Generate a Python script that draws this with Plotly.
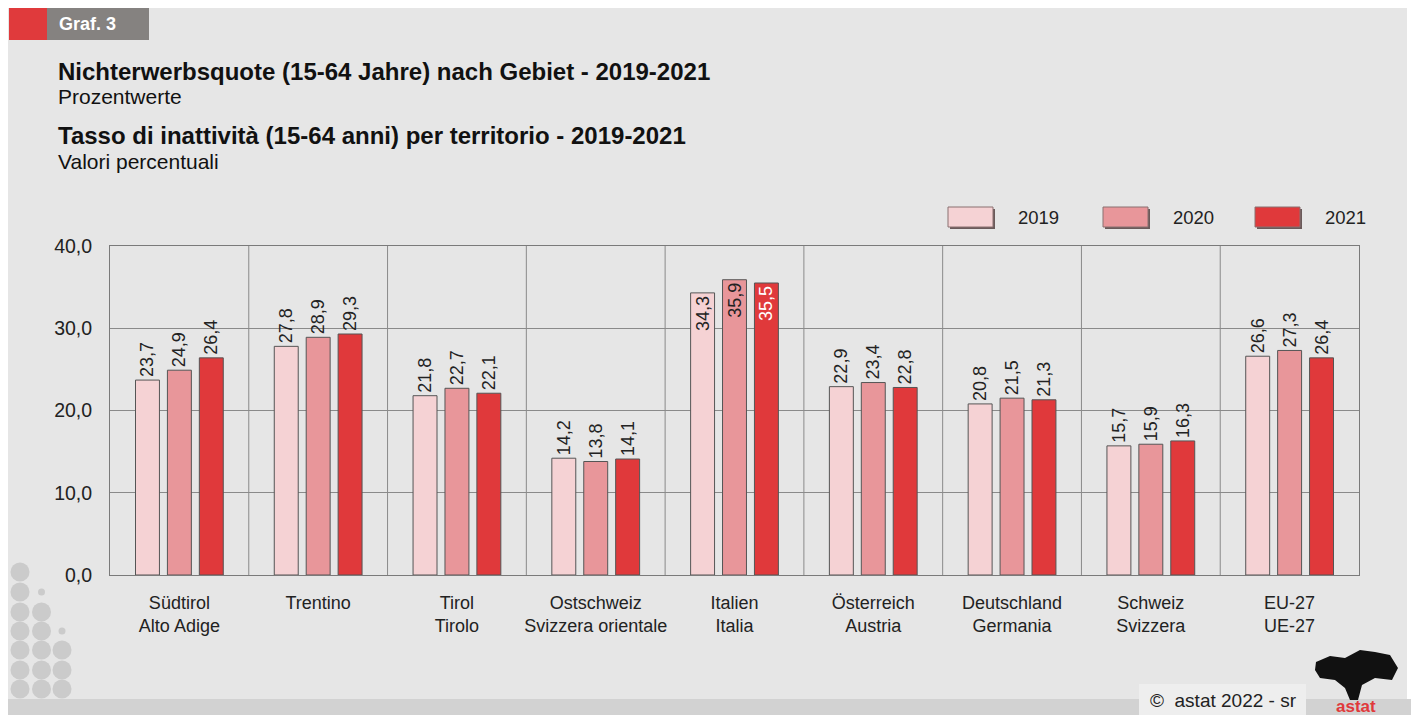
import plotly.graph_objects as go

categories = ["Südtirol<br>Alto Adige", "Trentino", "Tirol<br>Tirolo", "Ostschweiz<br>Svizzera orientale",
              "Italien<br>Italia", "Österreich<br>Austria", "Deutschland<br>Germania", "Schweiz<br>Svizzera",
              "EU-27<br>UE-27"]
years = ["2019", "2020", "2021"]
v2019 = [23.7, 27.8, 21.8, 14.2, 34.3, 22.9, 20.8, 15.7, 26.6]
v2020 = [24.9, 28.9, 22.7, 13.8, 35.9, 23.4, 21.5, 15.9, 27.3]
v2021 = [26.4, 29.3, 22.1, 14.1, 35.5, 22.8, 21.3, 16.3, 26.4]
series = [v2019, v2020, v2021]
colors = ["#f5d2d4", "#e8969a", "#e0393b"]
inside_text_colors = ["#222222", "#222222", "#ffffff"]

W, H = 1411, 715
ML, MR, MT, MB = 110, 52, 246, 140
PW, PH = W - ML - MR, H - MT - MB
FONT = "Liberation Sans, Arial, sans-serif"


def fx(x):
    return (x - ML) / PW


def fy(y):
    return (H - MB - y) / PH


x_idx = list(range(len(categories)))
fig = go.Figure()
for name, vals, col, tcol in zip(years, series, colors, inside_text_colors):
    pos = ["inside" if v > 33 else "outside" for v in vals]
    tcols = [tcol if p == "inside" else "#222222" for p in pos]
    fig.add_trace(go.Bar(
        x=x_idx, y=vals, name=name,
        marker=dict(color=col, line=dict(color="#555555", width=1)),
        text=[f"{v:.1f}".replace(".", ",") for v in vals],
        textposition=pos, insidetextanchor="end", textangle=-90, constraintext="none",
        textfont=dict(family=FONT, size=18, color=tcols),
        cliponaxis=False, showlegend=False,
    ))

shapes = []
annotations = []
# background
shapes.append(dict(type="rect", xref="paper", yref="paper", x0=fx(8), x1=fx(1407), y0=fy(700), y1=fy(8),
                   fillcolor="#e6e6e6", line=dict(width=0), layer="below"))
shapes.append(dict(type="rect", xref="paper", yref="paper", x0=fx(8), x1=fx(1411), y0=fy(715), y1=fy(699),
                   fillcolor="#d2d2d2", line=dict(width=0), layer="below"))
shapes.append(dict(type="rect", xref="paper", yref="paper", x0=fx(1139), x1=fx(1306), y0=fy(715), y1=fy(684),
                   fillcolor="#eeeeee", line=dict(width=0), layer="below"))
# header box
shapes.append(dict(type="rect", xref="paper", yref="paper", x0=fx(9), x1=fx(47), y0=fy(40), y1=fy(8),
                   fillcolor="#e03a3c", line=dict(width=0)))
shapes.append(dict(type="rect", xref="paper", yref="paper", x0=fx(47), x1=fx(149), y0=fy(40), y1=fy(8),
                   fillcolor="#858280", line=dict(width=0)))
annotations.append(dict(text="<b>Graf. 3</b>", xref="paper", yref="paper", x=fx(57), y=fy(24),
                        xanchor="left", yanchor="middle", showarrow=False,
                        font=dict(family=FONT, size=18, color="white")))
# titles
for txt, y, bold in [("Nichterwerbsquote (15-64 Jahre) nach Gebiet - 2019-2021", 71, True),
                     ("Prozentwerte", 96, False),
                     ("Tasso di inattività (15-64 anni) per territorio - 2019-2021", 136, True),
                     ("Valori percentuali", 161, False)]:
    annotations.append(dict(text=f"<b>{txt}</b>" if bold else txt, xref="paper", yref="paper",
                            x=fx(56), y=fy(y), xanchor="left", yanchor="middle", showarrow=False,
                            font=dict(family=FONT, size=24 if bold else 21, color="#111111")))
# vertical separators between categories
for i in range(len(categories) - 1):
    shapes.append(dict(type="line", xref="x", yref="y domain", x0=i + 0.5, x1=i + 0.5, y0=0, y1=1,
                       line=dict(color="#8a8a8a", width=1), layer="below"))
# legend (manual boxes)
leg_x = [948, 1103, 1255]
for lx, name, col in zip(leg_x, years, colors):
    shapes.append(dict(type="rect", xref="paper", yref="paper", x0=fx(lx + 2), x1=fx(lx + 47),
                       y0=fy(229), y1=fy(209), fillcolor="#6a5a5a", line=dict(width=0)))
    shapes.append(dict(type="rect", xref="paper", yref="paper", x0=fx(lx), x1=fx(lx + 45),
                       y0=fy(227), y1=fy(207), fillcolor=col, line=dict(color="#8a7070", width=1)))
    annotations.append(dict(text=name, xref="paper", yref="paper", x=fx(lx + 68), y=fy(217),
                            xanchor="left", yanchor="middle", showarrow=False,
                            font=dict(family=FONT, size=18.5, color="#222222")))
# decorative dots bottom-left
dot_cols = [20, 41.5, 62]
dot_rows = [572, 592, 612, 631, 650, 670, 689]
pattern = [[2, 0, 0], [2, 1, 0], [2, 2, 0], [2, 2, 1], [2, 2, 2], [2, 2, 2], [2, 2, 2]]
for r, row in zip(dot_rows, pattern):
    for c, kind in zip(dot_cols, row):
        if kind == 0:
            continue
        rad = 9.5 if kind == 2 else 3.5
        shapes.append(dict(type="circle", xref="paper", yref="paper", x0=fx(c - rad), x1=fx(c + rad),
                           y0=fy(r + rad), y1=fy(r - rad), fillcolor="#cbcbcb", line=dict(width=0),
                           layer="below"))
# copyright
annotations.append(dict(text="©  astat 2022 - sr", xref="paper", yref="paper", x=fx(1148), y=fy(700),
                        xanchor="left", yanchor="middle", showarrow=False,
                        font=dict(family=FONT, size=19, color="#222222")))
# logo
pts = [(1316, 662), (1330, 656), (1345, 658), (1360, 650), (1375, 652), (1390, 655), (1398, 668),
       (1392, 680), (1375, 678), (1362, 685), (1358, 700), (1350, 700), (1345, 688), (1335, 680),
       (1320, 678), (1315, 670)]
path = "M " + " L ".join(f"{fx(x):.5f},{fy(y):.5f}" for x, y in pts) + " Z"
shapes.append(dict(type="path", xref="paper", yref="paper", path=path, fillcolor="#111111",
                   line=dict(width=0)))
annotations.append(dict(text="<b>astat</b>", xref="paper", yref="paper", x=fx(1356), y=fy(706),
                        xanchor="center", yanchor="middle", showarrow=False,
                        font=dict(family=FONT, size=17, color="#e0393b")))

fig.update_layout(
    width=W, height=H,
    margin=dict(l=ML, r=MR, t=MT, b=MB, pad=0),
    paper_bgcolor="white", plot_bgcolor="white",
    barmode="group", bargap=0.31, bargroupgap=0.25,
    separators=", ",
    font=dict(family=FONT, size=17, color="#222222"),
    shapes=shapes, annotations=annotations,
    xaxis=dict(tickmode="array", tickvals=x_idx, ticktext=categories, range=[-0.5, len(categories) - 0.5],
               showgrid=False, zeroline=False, showline=True, linecolor="#7a7a7a", mirror=True,
               ticks="", ticklabelstandoff=11, tickfont=dict(family=FONT, size=18, color="#222222")),
    yaxis=dict(range=[0, 40], dtick=10, tickformat=".1f", showgrid=True, gridcolor="#8a8a8a",
               zeroline=False, showline=True, linecolor="#7a7a7a", mirror=True, ticks="",
               ticklabelstandoff=13, tickfont=dict(family=FONT, size=19.5, color="#222222")),
)
fig.write_html("out.html", config={"displayModeBar": False},
               post_script="document.body.style.margin='0';document.body.style.overflow='hidden';")
